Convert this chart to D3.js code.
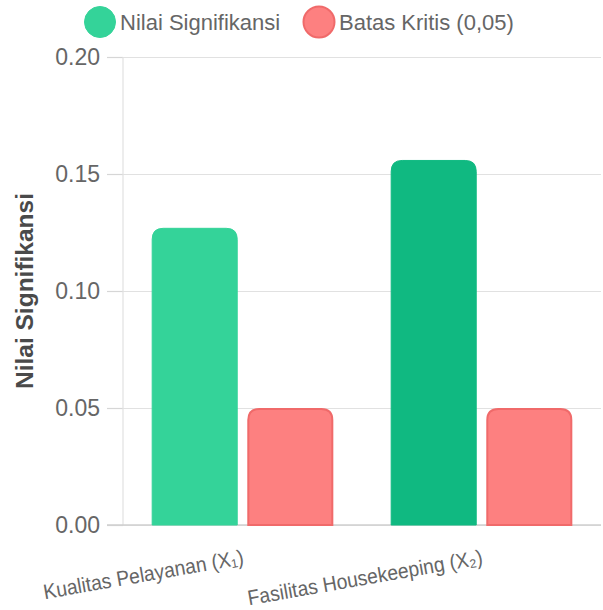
<!DOCTYPE html>
<html>
<head>
<meta charset="utf-8">
<script src="https://cdn.jsdelivr.net/npm/d3@7"></script>
<style>
  html, body { margin: 0; padding: 0; background: #fff; }
  svg { display: block; font-family: "Liberation Sans", Arial, Helvetica, sans-serif; }
</style>
</head>
<body>
<svg id="chart" width="603" height="610"></svg>
<script>
// Significance values per variable, compared against the 0.05 critical limit
const categories = ["Kualitas Pelayanan (X\u2081)", "Fasilitas Housekeeping (X\u2082)"];
const seriesNames = ["Nilai Signifikansi", "Batas Kritis (0,05)"];
const nilaiSignifikansi = [0.127, 0.156];
const batasKritis = [0.05, 0.05];
const yTicks = [0, 0.05, 0.10, 0.15, 0.20];

const W = 603, H = 610;
const m = { top: 57, right: 2, bottom: 85, left: 123 };
const svg = d3.select("#chart");

const y = d3.scaleLinear().domain([0, 0.2]).range([H - m.bottom, m.top]);
const x0 = d3.scaleBand().domain(categories).range([m.left, W - m.right])
  .paddingInner(0.2).paddingOuter(0.1);
const x1 = d3.scaleBand().domain(seriesNames).range([0, x0.bandwidth()])
  .paddingInner(0.1).paddingOuter(0.05);

// Gridlines and y axis
const yAxis = d3.axisLeft(y).tickValues(yTicks).tickFormat(d3.format(".2f"))
  .tickSizeInner(-(W - m.right - m.left)).tickSizeOuter(0).tickPadding(23);
const gy = svg.append("g").attr("transform", `translate(${m.left},0)`).call(yAxis);
gy.select(".domain").remove();
gy.selectAll(".tick line").attr("stroke", "#e1e1e1").attr("stroke-width", 1.2);
gy.selectAll(".tick").append("line")
  .attr("x1", -16).attr("x2", 0).attr("stroke", "#d6d6d6").attr("stroke-width", 1.2);
gy.selectAll(".tick text").attr("fill", "#666").attr("font-size", 23);

// y axis border line
svg.append("line")
  .attr("x1", m.left).attr("x2", m.left)
  .attr("y1", m.top).attr("y2", H - m.bottom)
  .attr("stroke", "#e1e1e1").attr("stroke-width", 1.2);

// baseline
svg.append("line")
  .attr("x1", m.left - 16).attr("x2", W - m.right)
  .attr("y1", y(0)).attr("y2", y(0))
  .attr("stroke", "#cfcfcf").attr("stroke-width", 1.5);

// Y axis title
svg.append("text")
  .attr("transform", `translate(33,${(m.top + H - m.bottom) / 2}) rotate(-90)`)
  .attr("text-anchor", "middle")
  .attr("font-size", 24.5).attr("font-weight", "bold").attr("fill", "#4a4a4a")
  .text("Nilai Signifikansi");

// Bars with rounded top corners
function topRounded(xp, yp, w, h, r) {
  r = Math.min(r, w / 2, h);
  return `M${xp},${yp + h}V${yp + r}Q${xp},${yp} ${xp + r},${yp}` +
         `H${xp + w - r}Q${xp + w},${yp} ${xp + w},${yp + r}V${yp + h}Z`;
}

const greenFills = ["#34d399", "#10b981"];
const rows = categories.map((c, i) => ({
  cat: c,
  bars: [
    { s: seriesNames[0], v: nilaiSignifikansi[i], fill: greenFills[i], stroke: greenFills[i], sw: 1 },
    { s: seriesNames[1], v: batasKritis[i], fill: "#fd8080", stroke: "#f06a6a", sw: 2 }
  ]
}));

const gBars = svg.append("g");
rows.forEach(r => {
  r.bars.forEach(b => {
    const bx = x0(r.cat) + x1(b.s);
    const by = y(b.v);
    gBars.append("path")
      .attr("d", topRounded(bx + b.sw / 2, by + b.sw / 2, x1.bandwidth() - b.sw, y(0) - by - b.sw / 2, 11))
      .attr("fill", b.fill)
      .attr("stroke", b.stroke)
      .attr("stroke-width", b.sw);
  });
});

// Rotated category labels (slightly condensed horizontally)
svg.append("g").selectAll("text").data(categories).join("text")
  .attr("transform", d => `translate(${x0(d) + x0.bandwidth() / 2 + 2},${H - m.bottom + 39}) rotate(-10) scale(0.92,1)`)
  .attr("text-anchor", "end")
  .attr("font-size", 21).attr("fill", "#666")
  .text(d => d);

// Legend
const legend = [
  { name: seriesNames[0], cx: 100, fill: "#34d399", stroke: "#34d399", sw: 1 },
  { name: seriesNames[1], cx: 319, fill: "#fd8080", stroke: "#f06a6a", sw: 2 }
];
const lg = svg.append("g");
legend.forEach(l => {
  lg.append("circle").attr("cx", l.cx).attr("cy", 22).attr("r", 15.5)
    .attr("fill", l.fill).attr("stroke", l.stroke).attr("stroke-width", l.sw);
  lg.append("text").attr("x", l.cx + 20).attr("y", 22).attr("dy", "0.36em")
    .attr("font-size", 22).attr("fill", "#666").text(l.name);
});
</script>
</body>
</html>
